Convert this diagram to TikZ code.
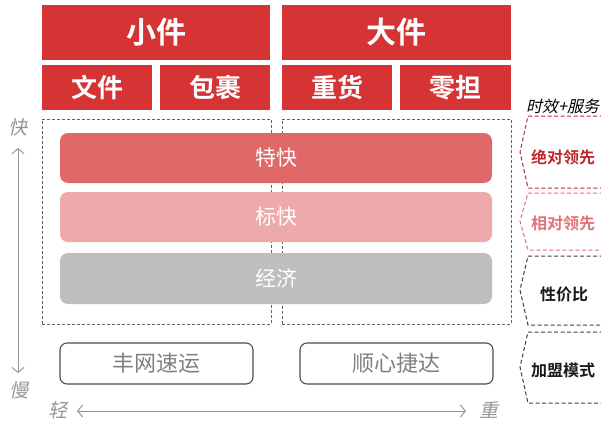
\documentclass[tikz,border=0pt]{standalone}
\usepackage{fontspec}
\setmainfont{Noto Sans CJK SC}[BoldFont={* Bold},ItalicFont={*},ItalicFeatures={FakeSlant=0.22}]
\usetikzlibrary{arrows.meta}
\definecolor{hdred}{RGB}{214,52,52}
\definecolor{barA}{RGB}{224,104,104}
\definecolor{barB}{RGB}{238,170,171}
\definecolor{barC}{RGB}{190,190,190}
\definecolor{dashgray}{RGB}{100,100,100}
\definecolor{darkred}{RGB}{192,39,45}
\definecolor{lightred}{RGB}{228,112,114}
\definecolor{axisgray}{RGB}{150,150,150}
\tikzset{
  hdr/.style={fill=hdred,draw=none,text=white,font=\bfseries,inner sep=0pt,anchor=center},
  group/.style={draw=dashgray,dash pattern=on 3pt off 2pt,line width=0.9pt,inner sep=0pt},
  bar/.style={draw=none,rounded corners=8pt,text=white,minimum width=432pt,inner sep=0pt,font=\fontsize{21}{23}\selectfont},
  brand/.style={draw=black!70,line width=1.1pt,rounded corners=7pt,text=black!50,minimum width=193pt,minimum height=41pt,inner sep=0pt,font=\fontsize{22}{24}\selectfont},
  chev/.style={dash pattern=on 4pt off 2.5pt,line width=1pt},
  lvl/.style={font=\bfseries\fontsize{16}{18}\selectfont,inner sep=0pt},
  axislbl/.style={text=axisgray,font=\itshape\fontsize{19}{21}\selectfont,inner sep=0pt},
  axis/.style={draw=axisgray,line width=1pt,arrows={-Straight Barb[length=5pt,width=12pt,line width=1pt]}}
}
\begin{document}
\begin{tikzpicture}[x=1pt,y=-1pt]
\useasboundingbox (0,0) rectangle (601,424);
\clip (0,0) rectangle (601,424);
% headers
\node[hdr,minimum width=228pt,minimum height=55pt,font=\bfseries\fontsize{30}{32}\selectfont] (small) at (156,32.5) {小件};
\node[hdr,minimum width=229pt,minimum height=55pt,font=\bfseries\fontsize{30}{32}\selectfont] (large) at (396.5,32.5) {大件};
\node[hdr,minimum width=110pt,minimum height=45pt,font=\bfseries\fontsize{26}{28}\selectfont] (doc) at (97,87.5) {文件};
\node[hdr,minimum width=110pt,minimum height=45pt,font=\bfseries\fontsize{26}{28}\selectfont] (parcel) at (215,87.5) {包裹};
\node[hdr,minimum width=110pt,minimum height=45pt,font=\bfseries\fontsize{26}{28}\selectfont] (heavy) at (337,87.5) {重货};
\node[hdr,minimum width=111pt,minimum height=45pt,font=\bfseries\fontsize{26}{28}\selectfont] (ltl) at (455.5,87.5) {零担};
% dashed groups
\node[group,minimum width=229pt,minimum height=205pt] (gleft) at (156.5,221.5) {};
\node[group,minimum width=229pt,minimum height=205pt] (gright) at (396.5,221.5) {};
% bars
\node[bar,fill=barA,minimum height=50pt] (tk) at (276,158) {特快};
\node[bar,fill=barB,minimum height=50pt] (bk) at (276,217) {标快};
\node[bar,fill=barC,minimum height=51pt] (jj) at (276,278.5) {经济};
% brands
\node[brand] (fw) at (156.5,363.5) {丰网速运};
\node[brand] (sx) at (396.5,363.5) {顺心捷达};
% axes
\node[axislbl] (fast) at (18,127) {快};
\node[axislbl] (slow) at (19,390) {慢};
\node[axislbl] (light) at (58,410) {轻};
\node[axislbl] (heavyl) at (489,410) {重};
\coordinate (vmid) at (18,260);
\coordinate (vtop) at (18,148);
\coordinate (vbot) at (18,373);
\coordinate (hmid) at (270,411);
\coordinate (hl) at (77,411);
\coordinate (hr) at (466,411);
\draw[axis] (vmid) -- (vtop);
\draw[axis] (vmid) -- (vbot);
\draw[axis] (hmid) -- (hl);
\draw[axis] (hmid) -- (hr);
% right column
\node[font=\itshape\fontsize{16}{18}\selectfont,anchor=west,inner sep=0pt] (ts) at (526,106) {时效+服务};
\draw[chev,draw=darkred] (610,116) -- (528,116) -- (520,152) -- (528,188) -- (610,188);
\draw[chev,draw=lightred] (610,193) -- (528,193) -- (520,221) -- (528,250) -- (610,250);
\draw[chev,draw=black!75] (610,256) -- (528,256) -- (520,290) -- (528,325) -- (610,325);
\draw[chev,draw=black!75] (610,332) -- (528,332) -- (520,367) -- (528,403) -- (610,403);
\node[lvl,text=darkred] (l1) at (563,157) {绝对领先};
\node[lvl,text=lightred] (l2) at (563,223) {相对领先};
\node[lvl,text=black!90] (l3) at (564,294) {性价比};
\node[lvl,text=black!90] (l4) at (563,370) {加盟模式};
\end{tikzpicture}
\end{document}
